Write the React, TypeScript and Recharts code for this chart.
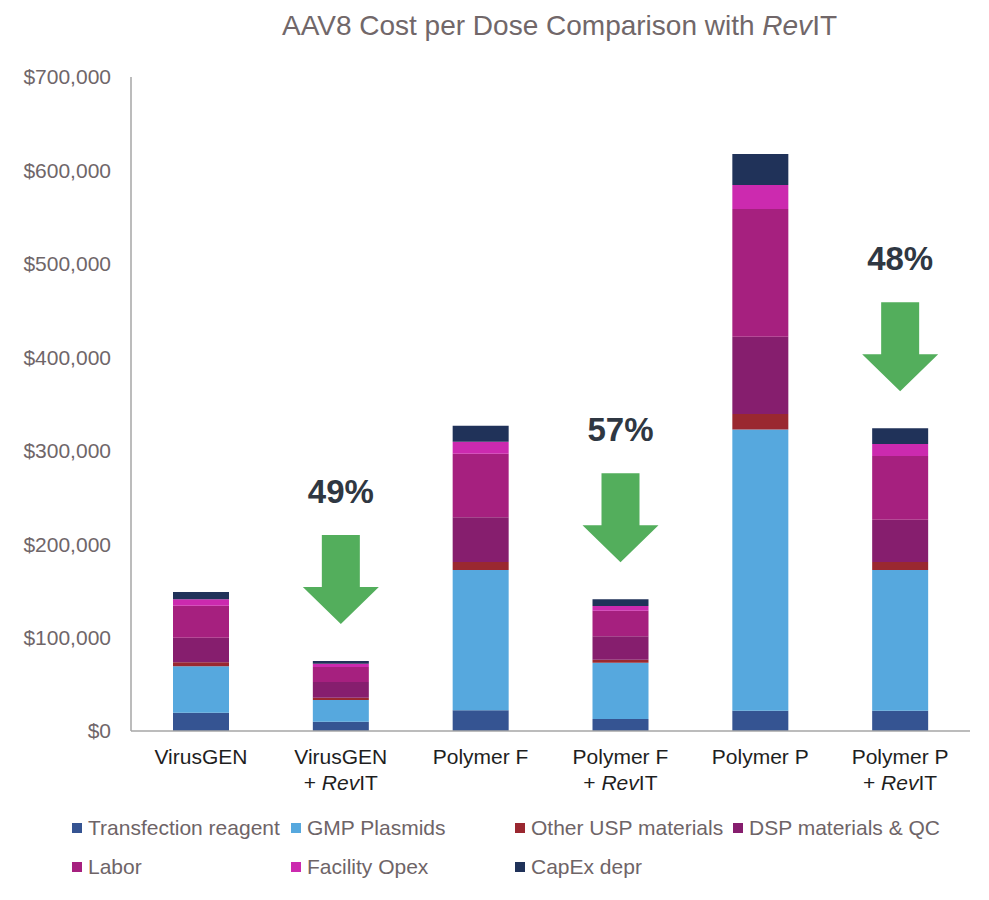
import { BarChart, Bar, XAxis, YAxis, LabelList } from 'recharts'

const FONT = '"Liberation Sans", Arial, Helvetica, sans-serif'

const categories = [
  'VirusGEN',
  'VirusGEN + RevIT',
  'Polymer F',
  'Polymer F + RevIT',
  'Polymer P',
  'Polymer P + RevIT'
]

// cost per dose, USD (bottom to top)
const transfection = [19600, 10000, 22200, 12800, 21700, 21700]
const gmpPlasmids = [49600, 23200, 150100, 60300, 301000, 150600]
const otherUsp = [4300, 2400, 8600, 3200, 16600, 8600]
const dspQc = [26400, 16800, 47800, 25100, 82700, 45300]
const labor = [34200, 16100, 68100, 27400, 136700, 68100]
const facilityOpex = [6900, 3500, 12800, 5000, 25700, 12900]
const capexDepr = [7800, 2900, 17200, 7200, 33200, 16800]

const savings = ['', '49%', '', '57%', '', '48%']

const yTicks = [0, 100000, 200000, 300000, 400000, 500000, 600000, 700000]

const SERIES = [
  { key: 'transfection', label: 'Transfection reagent', color: '#355492', values: transfection },
  { key: 'gmp', label: 'GMP Plasmids', color: '#56a8de', values: gmpPlasmids },
  { key: 'otherUsp', label: 'Other USP materials', color: '#9a2830', values: otherUsp },
  { key: 'dsp', label: 'DSP materials & QC', color: '#861e6e', values: dspQc },
  { key: 'labor', label: 'Labor', color: '#a6207f', values: labor },
  { key: 'facility', label: 'Facility Opex', color: '#cc2aaf', values: facilityOpex },
  { key: 'capex', label: 'CapEx depr', color: '#203259', values: capexDepr }
]

const chartData = categories.map((name, i) => {
  const row: Record<string, string | number> = { name, savings: savings[i] }
  SERIES.forEach((s) => {
    row[s.key] = s.values[i]
  })
  return row
})

const GREY_TEXT = '#6f6669'
const AXIS_COLOR = '#a6a6a6'

const formatDollar = (v: number) => '$' + v.toLocaleString('en-US')

const RevIT = () => (
  <>
    <tspan fontStyle="italic">Rev</tspan>
    <tspan>IT</tspan>
  </>
)

const CategoryTick = (props: any) => {
  const { x, y, payload } = props
  const [first, second] = String(payload.value).split(' + ')
  return (
    <text x={x} y={y} textAnchor="middle" fontSize={21} fill="#1e1e1e" fontFamily={FONT}>
      <tspan x={x} dy={33}>{first}</tspan>
      {second && (
        <>
          <tspan x={x} dy={26}>{'+\u00A0'}</tspan>
          <RevIT />
        </>
      )}
    </text>
  )
}

// green "down" arrow with the saving above it, hung off the top of the stack
const SavingArrow = (props: any) => {
  const { x, y, width, value } = props
  if (!value) return null
  const cx = x + width / 2
  const tip = y - 37
  const headTop = tip - 37
  const shaftTop = tip - 89
  const path = [
    `M${cx - 19},${shaftTop}`,
    `L${cx + 19},${shaftTop}`,
    `L${cx + 19},${headTop}`,
    `L${cx + 38},${headTop}`,
    `L${cx},${tip}`,
    `L${cx - 38},${headTop}`,
    `L${cx - 19},${headTop}`,
    'Z'
  ].join(' ')
  return (
    <g>
      <path d={path} fill="#53ae5c" />
      <text
        x={cx}
        y={shaftTop - 32}
        textAnchor="middle"
        fontSize={33}
        fontWeight="bold"
        fill="#2f3742"
        fontFamily={FONT}
      >
        {value}
      </text>
    </g>
  )
}

export default function App() {
  return (
    <div
      style={{
        position: 'absolute',
        left: 0,
        top: 0,
        width: 989,
        height: 900,
        background: '#fff',
        fontFamily: FONT
      }}
    >
      <div
        style={{
          position: 'absolute',
          left: 130,
          right: 0,
          top: 12,
          textAlign: 'center',
          fontSize: 28,
          lineHeight: '28px',
          color: '#716769'
        }}
      >
        AAV8 Cost per Dose Comparison with <i>Rev</i>IT
      </div>

      <BarChart
        width={989}
        height={900}
        data={chartData}
        margin={{ top: 77, right: 19, left: 0, bottom: 109 }}
        style={{ position: 'absolute', left: 0, top: 0 }}
      >
        <YAxis
          width={131}
          domain={[0, 700000]}
          ticks={yTicks}
          tickFormatter={formatDollar}
          tickLine={false}
          tickSize={0}
          tickMargin={20}
          axisLine={{ stroke: AXIS_COLOR, strokeWidth: 1.5 }}
          tick={{ fontSize: 21, fill: GREY_TEXT, fontFamily: FONT }}
        />
        <XAxis
          dataKey="name"
          height={60}
          interval={0}
          tickLine={false}
          tickSize={0}
          tickMargin={0}
          axisLine={{ stroke: AXIS_COLOR, strokeWidth: 1.5 }}
          tick={<CategoryTick />}
        />
        {SERIES.map((s, i) => (
          <Bar
            key={s.key}
            dataKey={s.key}
            name={s.label}
            stackId="cost"
            fill={s.color}
            barSize={56}
            isAnimationActive={false}
          >
            {i === SERIES.length - 1 && (
              <LabelList dataKey="savings" content={<SavingArrow />} />
            )}
          </Bar>
        ))}
      </BarChart>

      <div
        style={{
          position: 'absolute',
          left: 72,
          top: 808,
          display: 'grid',
          gridTemplateColumns: '219px 224px 218px auto',
          gridAutoRows: '39px',
          fontSize: 21,
          color: '#6e6467'
        }}
      >
        {SERIES.map((s) => (
          <div key={s.key} style={{ display: 'flex', alignItems: 'center', whiteSpace: 'nowrap' }}>
            <span
              style={{
                width: 10,
                height: 10,
                marginRight: 6,
                background: s.color,
                flexShrink: 0
              }}
            />
            <span>{s.label}</span>
          </div>
        ))}
      </div>
    </div>
  )
}
